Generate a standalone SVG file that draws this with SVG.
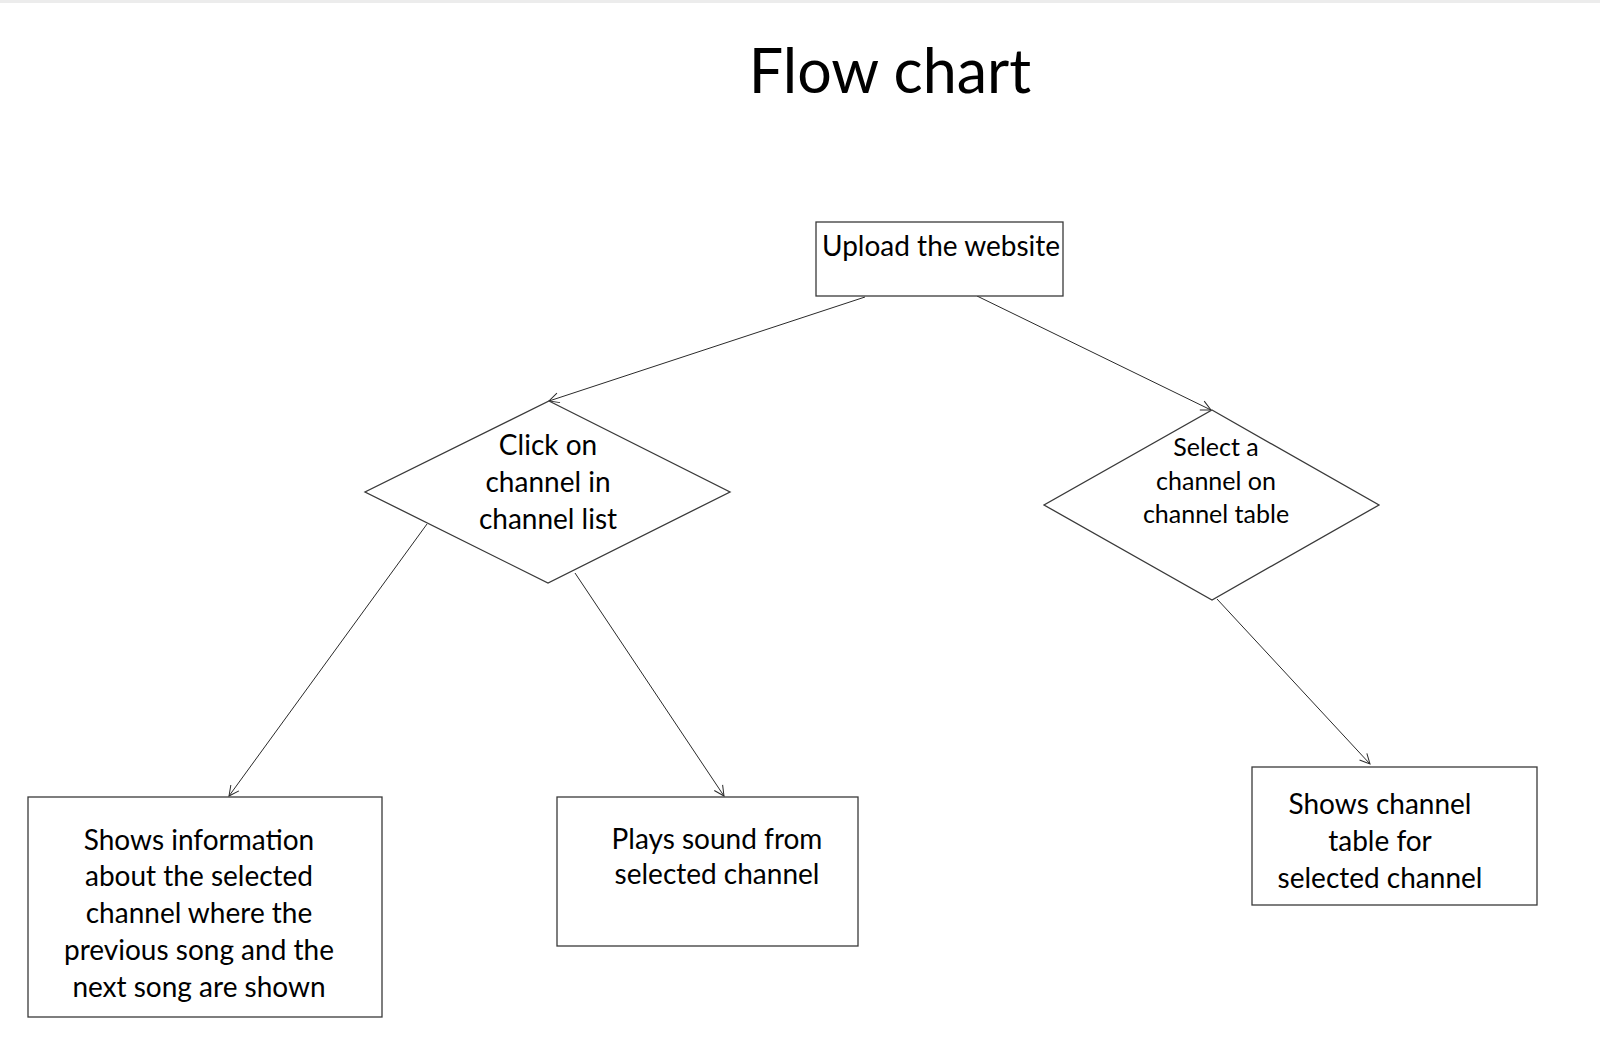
<svg xmlns="http://www.w3.org/2000/svg" width="1600" height="1046" viewBox="0 0 1600 1046">
  <defs>
    <style>
      .bg { fill: #ffffff; }
      .shape { fill: #ffffff; stroke: #3a3a3a; stroke-width: 1.3; }
      .edge { fill: none; stroke: #2a2a2a; stroke-width: 1; }
      .lbl { font-family: Lato, "Open Sans", "Liberation Sans", sans-serif; fill: #000; text-anchor: middle; }
      .t30 { font-size: 28px; }
      .t26 { font-size: 25px; }
      .title { font-family: Lato, "Open Sans", "Liberation Sans", sans-serif; font-size: 61px; fill: #000; text-anchor: middle; }
    </style>
    <marker id="arrow" viewBox="0 0 12 12" refX="11" refY="6" markerWidth="12" markerHeight="12" markerUnits="userSpaceOnUse" orient="auto">
      <path d="M1,1 L11,6 L1,11" fill="none" stroke="#2a2a2a" stroke-width="1"/>
    </marker>
  </defs>
  <rect class="bg" x="0" y="0" width="1600" height="1046"/>
  <rect x="0" y="0" width="1600" height="3" fill="#ececec"/>

  <text class="title" x="890" y="93">Flow chart</text>

  <g id="connectors">
    <line class="edge" x1="865" y1="297" x2="549" y2="401" marker-end="url(#arrow)"/>
    <line class="edge" x1="977" y1="296" x2="1211" y2="410" marker-end="url(#arrow)"/>
    <line class="edge" x1="427" y1="524" x2="229" y2="796" marker-end="url(#arrow)"/>
    <line class="edge" x1="575" y1="573" x2="724" y2="796" marker-end="url(#arrow)"/>
    <line class="edge" x1="1217" y1="599" x2="1370" y2="764" marker-end="url(#arrow)"/>
  </g>

  <g id="node-upload">
    <rect class="shape" x="816" y="222" width="247" height="74"/>
    <text class="lbl t30" x="941" y="256">Upload the website</text>
  </g>

  <g id="node-click-channel">
    <polygon class="shape" points="549,401 730,492 548,583 365,492"/>
    <text class="lbl t30" x="548" y="455">Click on</text>
    <text class="lbl t30" x="548" y="492">channel in</text>
    <text class="lbl t30" x="548" y="529">channel list</text>
  </g>

  <g id="node-select-channel">
    <polygon class="shape" points="1212,410 1379,505 1212,600 1044,505"/>
    <text class="lbl t26" x="1216" y="456">Select a</text>
    <text class="lbl t26" x="1216" y="490">channel on</text>
    <text class="lbl t26" x="1216" y="523">channel table</text>
  </g>

  <g id="node-show-info">
    <rect class="shape" x="28" y="797" width="354" height="220"/>
    <text class="lbl t30" x="199" y="850">Shows information</text>
    <text class="lbl t30" x="199" y="886">about the selected</text>
    <text class="lbl t30" x="199" y="923">channel where the</text>
    <text class="lbl t30" x="199" y="960">previous song and the</text>
    <text class="lbl t30" x="199" y="997">next song are shown</text>
  </g>

  <g id="node-play-sound">
    <rect class="shape" x="557" y="797" width="301" height="149"/>
    <text class="lbl t30" x="717" y="849">Plays sound from</text>
    <text class="lbl t30" x="717" y="884">selected channel</text>
  </g>

  <g id="node-channel-table">
    <rect class="shape" x="1252" y="767" width="285" height="138"/>
    <text class="lbl t30" x="1380" y="814">Shows channel</text>
    <text class="lbl t30" x="1380" y="851">table for</text>
    <text class="lbl t30" x="1380" y="888">selected channel</text>
  </g>
</svg>
